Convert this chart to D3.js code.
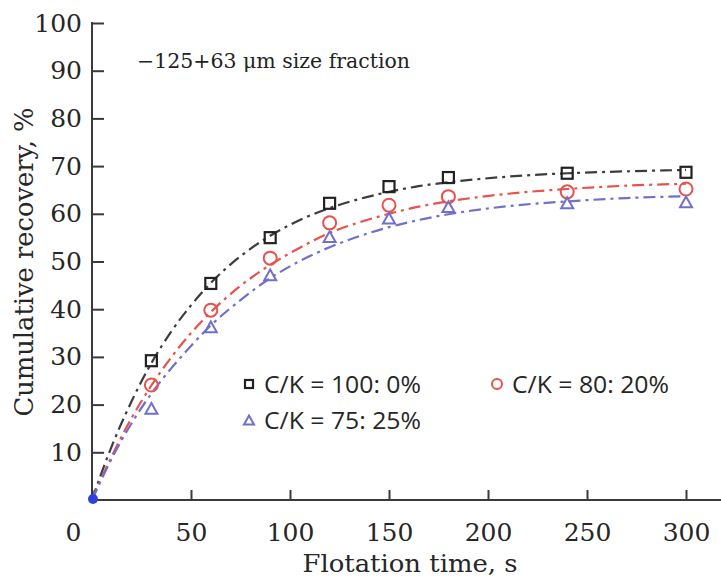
<!DOCTYPE html>
<html><head><meta charset="utf-8">
<script src="https://cdn.jsdelivr.net/npm/d3@7"></script>
<style>body{margin:0;background:#fff}</style>
</head><body>
<svg id="c" width="721" height="579"></svg>
<script>
// Measured points
const times = [30, 60, 90, 120, 150, 180, 240, 300];
const recA = [29.2, 45.4, 55.0, 62.2, 65.7, 67.6, 68.5, 68.7];
const recB = [24.1, 39.8, 50.7, 58.1, 61.8, 63.6, 64.6, 65.2];
const recC = [19.2, 36.3, 47.2, 55.2, 59.1, 61.5, 62.3, 62.5];
// Fitted curves
const fitTimes = [0, 5, 10, 20, 30, 40, 50, 60, 75, 90, 105, 120, 135, 150, 165, 180, 210, 240, 270, 300];
const fitA = [0, 5.9, 11.3, 20.7, 28.7, 35.3, 40.8, 45.5, 51.1, 55.4, 58.7, 61.2, 63.1, 64.6, 65.8, 66.6, 67.8, 68.5, 68.9, 69.2];
const fitB = [0, 4.8, 9.2, 17.2, 24.0, 29.9, 35.0, 39.4, 44.9, 49.3, 52.9, 56.0, 58.2, 60.0, 61.5, 62.6, 64.2, 65.2, 65.9, 66.3];
const fitC = [0, 4.5, 8.7, 16.1, 22.3, 27.6, 32.3, 36.6, 41.9, 46.5, 50.1, 53.0, 55.3, 57.2, 58.7, 59.9, 61.6, 62.6, 63.3, 63.7];
const xTicks = [0, 50, 100, 150, 200, 250, 300];
const yTicks = [10, 20, 30, 40, 50, 60, 70, 80, 90, 100];
const seriesNames = ["C/K = 100: 0%", "C/K = 80: 20%", "C/K = 75: 25%"];
const annotation = "\u2212125+63 \u03bcm size fraction";
const xTitle = "Flotation time, s";
const yTitle = "Cumulative  recovery,  %";

const svg = d3.select("#c");
const x = d3.scaleLinear().domain([0, 300]).range([92, 686]);
const y = d3.scaleLinear().domain([0, 100]).range([500, 23]);
const serif = "'DejaVu Serif', serif";
const axisColor = "#3a3a3a";

// Y axis
const gy = svg.append("g").attr("transform", "translate(92,0)")
  .call(d3.axisLeft(y).tickValues(yTicks).tickSizeInner(-12).tickSizeOuter(0).tickPadding(10));
gy.select(".domain").remove();
gy.selectAll(".tick line").attr("stroke", axisColor).attr("stroke-width", 2);
gy.selectAll(".tick text").attr("font-family", serif).attr("font-size", 25).attr("fill", "#262626");
svg.append("line").attr("x1", 92).attr("x2", 92).attr("y1", y(100) - 1).attr("y2", y(0) + 1)
  .attr("stroke", axisColor).attr("stroke-width", 2);

// X axis
const gx = svg.append("g").attr("transform", "translate(0,500)")
  .call(d3.axisBottom(x).tickValues(xTicks).tickSizeInner(-10).tickSizeOuter(0).tickPadding(23));
gx.select(".domain").remove();
gx.selectAll(".tick line").attr("stroke", axisColor).attr("stroke-width", 2);
gx.selectAll(".tick text").attr("font-family", serif).attr("font-size", 25).attr("fill", "#262626")
  .attr("dx", d => d === 0 ? -19 : 0);
svg.append("line").attr("x1", 91).attr("x2", 721).attr("y1", 500).attr("y2", 500)
  .attr("stroke", axisColor).attr("stroke-width", 2);

// Titles
svg.append("text").attr("x", 410).attr("y", 572).attr("text-anchor", "middle")
  .attr("font-family", serif).attr("font-size", 24).attr("fill", "#262626")
  .attr("textLength", 215).attr("lengthAdjust", "spacingAndGlyphs").text(xTitle);
svg.append("text").attr("transform", "translate(33,262) rotate(-90)").attr("text-anchor", "middle")
  .attr("font-family", serif).attr("font-size", 26).attr("fill", "#262626")
  .attr("textLength", 309).attr("lengthAdjust", "spacingAndGlyphs").text(yTitle);
svg.append("text").attr("x", 137).attr("y", 68)
  .attr("font-family", serif).attr("font-size", 20).attr("fill", "#222")
  .attr("textLength", 273).attr("lengthAdjust", "spacingAndGlyphs").text(annotation);

// Series
const colors = ["#3c3c3c", "#e8524d", "#6f6fcc"];
const fits = [fitA, fitB, fitC];
const recs = [recA, recB, recC];
const line = d3.line().x(d => x(d[0])).y(d => y(d[1])).curve(d3.curveMonotoneX);
fits.forEach((f, i) => {
  svg.append("path").datum(fitTimes.map((t, j) => [t, f[j]]))
    .attr("d", line).attr("fill", "none").attr("stroke", colors[i])
    .attr("stroke-width", 2.2).attr("stroke-dasharray", "12,5,3,5");
});

function marker(g, kind, cx, cy, s, color) {
  if (kind === 0) {
    g.append("rect").attr("x", cx - s / 2).attr("y", cy - s / 2).attr("width", s).attr("height", s)
      .attr("fill", "none").attr("stroke", "#222").attr("stroke-width", 2.2);
  } else if (kind === 1) {
    g.append("circle").attr("cx", cx).attr("cy", cy).attr("r", s / 2)
      .attr("fill", "none").attr("stroke", color).attr("stroke-width", 2);
  } else {
    const h = s * 0.9;
    g.append("path").attr("d", `M${cx},${cy - h / 2}L${cx + s / 2},${cy + h / 2}L${cx - s / 2},${cy + h / 2}Z`)
      .attr("fill", "none").attr("stroke", color).attr("stroke-width", 2);
  }
}
const gm = svg.append("g");
recs.forEach((r, i) => {
  times.forEach((t, j) => marker(gm, i, x(t), y(r[j]), i === 0 ? 11 : (i === 1 ? 13 : 12), colors[i]));
});
// origin point
svg.append("circle").attr("cx", x(0) + 1).attr("cy", y(0) - 1).attr("r", 5).attr("fill", "#3040e0");

// Legend
const legendPos = [[249, 384], [497, 384], [249, 420]];
seriesNames.forEach((n, i) => {
  const [lx, ly] = legendPos[i];
  marker(svg, i, lx, ly, i === 0 ? 8 : 10, colors[i]);
  svg.append("text").attr("x", lx + 15).attr("y", ly + 9)
    .attr("font-family", "'Open Sans', sans-serif").attr("font-size", 24).attr("fill", "#262626")
    .attr("textLength", 157).attr("lengthAdjust", "spacingAndGlyphs").text(n);
});
</script>
</body></html>
